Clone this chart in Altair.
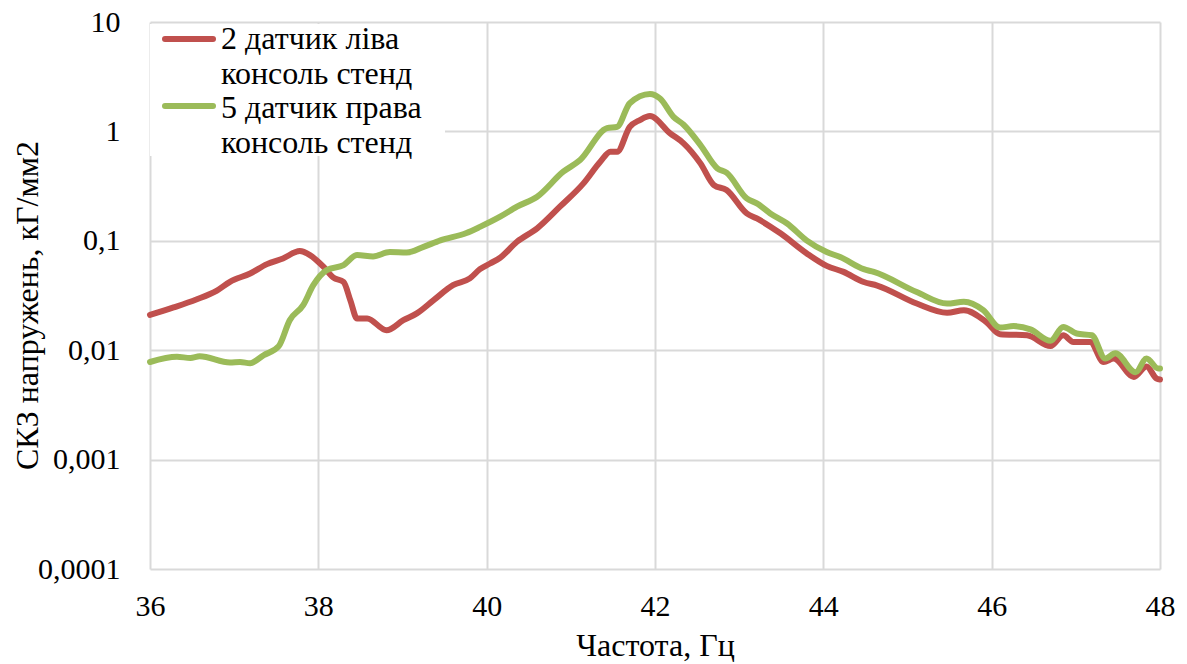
import altair as alt
import pandas as pd

# Frequency (Hz) and RMS stress (kG/mm2) for the two sensors
sensor2_freq = [36.0, 36.28, 36.55, 36.79, 36.95, 37.19, 37.39, 37.58, 37.78, 37.9,
                38.06, 38.18, 38.30, 38.38, 38.46, 38.58, 38.81, 39.01, 39.17, 39.37,
                39.60, 39.80, 39.92, 40.04, 40.16, 40.36, 40.60, 40.87, 41.15, 41.35,
                41.47, 41.55, 41.70, 41.82, 41.94, 42.18, 42.34, 42.54, 42.70, 42.85,
                43.09, 43.21, 43.49, 43.80, 44.04, 44.24, 44.48, 44.64, 45.11, 45.47,
                45.67, 45.94, 46.10, 46.42, 46.70, 46.85, 46.97, 47.17, 47.33, 47.45,
                47.69, 47.84, 47.96, 48.0]
sensor2_rms = [0.021, 0.0246, 0.0291, 0.0349, 0.0422, 0.0503, 0.0612, 0.069, 0.0805, 0.074,
               0.058, 0.046, 0.042, 0.0286, 0.0195, 0.0195, 0.0152, 0.0188, 0.0217, 0.0287,
               0.0393, 0.0453, 0.055, 0.062, 0.070, 0.098, 0.130, 0.205, 0.335, 0.528,
               0.652, 0.652, 1.10, 1.27, 1.38, 0.96, 0.778, 0.51, 0.323, 0.291,
               0.178, 0.160, 0.117, 0.077, 0.059, 0.052, 0.042, 0.039, 0.0267, 0.022,
               0.0232, 0.018, 0.014, 0.0137, 0.0109, 0.0137, 0.0119, 0.0119, 0.0078, 0.0084,
               0.0057, 0.0071, 0.0055, 0.0054]

sensor5_freq = [36.0, 36.32, 36.48, 36.59, 36.95, 37.07, 37.19, 37.35, 37.53, 37.66,
                37.82, 37.94, 38.10, 38.30, 38.46, 38.65, 38.85, 39.05, 39.25, 39.45,
                39.76, 39.92, 40.16, 40.36, 40.60, 40.91, 41.11, 41.43, 41.55, 41.70,
                41.94, 42.06, 42.22, 42.34, 42.54, 42.74, 42.85, 43.09, 43.21, 43.37,
                43.57, 43.80, 44.04, 44.20, 44.48, 44.60, 45.11, 45.47, 45.67, 45.90,
                46.10, 46.26, 46.46, 46.70, 46.85, 47.01, 47.19, 47.35, 47.47, 47.71,
                47.84, 47.98, 48.0]
sensor5_rms = [0.0078, 0.0087, 0.0085, 0.0088, 0.0077, 0.0078, 0.0076, 0.0090, 0.0109, 0.0188,
               0.0258, 0.0393, 0.054, 0.060, 0.074, 0.072, 0.0789, 0.078, 0.088, 0.101,
               0.118, 0.134, 0.166, 0.205, 0.253, 0.428, 0.547, 1.07, 1.10, 1.81,
               2.2, 2.0, 1.36, 1.15, 0.75, 0.46, 0.42, 0.244, 0.22, 0.178,
               0.144, 0.101, 0.079, 0.071, 0.055, 0.052, 0.034, 0.0267, 0.0277, 0.0232,
               0.0161, 0.0166, 0.0155, 0.0122, 0.0163, 0.0142, 0.0137, 0.0084, 0.0094, 0.0063,
               0.0084, 0.0068, 0.0068]

series_names = ["2 датчик ліва консоль стенд", "5 датчик права консоль стенд"]
series_colors = ["#C0504D", "#9BBB59"]
y_ticks = [0.0001, 0.001, 0.01, 0.1, 1, 10]
x_ticks = [36, 38, 40, 42, 44, 46, 48]

df = pd.concat([
    pd.DataFrame({"freq": sensor2_freq, "rms": sensor2_rms, "series": series_names[0], "order": range(len(sensor2_freq))}),
    pd.DataFrame({"freq": sensor5_freq, "rms": sensor5_rms, "series": series_names[1], "order": range(len(sensor5_freq))}),
])

FONT = "Liberation Serif"
LABEL_FS = 30
TITLE_FS = 32
LEGEND_FS = 32
LINE_W = 6

lines = alt.Chart(df).mark_line(strokeWidth=LINE_W, interpolate="monotone", strokeCap="round", strokeJoin="round").encode(
    x=alt.X("freq:Q", scale=alt.Scale(domain=[36, 48], nice=False, zero=False),
            axis=alt.Axis(values=x_ticks, format="d", title="Частота, Гц", labelFlush=False,
                          labelPadding=22, titlePadding=9)),
    y=alt.Y("rms:Q", scale=alt.Scale(type="log", domain=[0.0001, 10], nice=False),
            axis=alt.Axis(values=y_ticks, labelExpr="replace(toString(datum.value), '.', ',')",
                          labelFlush=False, title="СКЗ напружень, кГ/мм2",
                          labelPadding=30, titleAngle=270, titleAlign="center",
                          titleBaseline="alphabetic", titleX=-113, titleY=283)),
    color=alt.Color("series:N", scale=alt.Scale(domain=series_names, range=series_colors), legend=None),
    order="order:Q",
)

one = alt.Data(values=[{}])

# Legend panel drawn on a white box at the top left of the plot
legend_bg = alt.Chart(one).mark_rect(fill="white").encode(
    x=alt.value(0), x2=alt.value(295), y=alt.value(2), y2=alt.value(134))

def swatch(color, ypix):
    return alt.Chart(one).mark_rule(strokeWidth=LINE_W, strokeCap="round", color=color).encode(
        x=alt.value(15), x2=alt.value(63), y=alt.value(ypix))

def label(text, ypix):
    return alt.Chart(one).mark_text(align="left", baseline="alphabetic", font=FONT, fontSize=LEGEND_FS,
                                    color="black").encode(
        x=alt.value(71), y=alt.value(ypix), text=alt.value(text))

legend = [
    legend_bg,
    swatch(series_colors[0], 17),
    swatch(series_colors[1], 84),
    label("2 датчик ліва", 27),
    label("консоль стенд", 62),
    label("5 датчик права", 96),
    label("консоль стенд", 131),
]

chart = alt.layer(lines, *legend).properties(
    width=1010, height=547,
    autosize=alt.AutoSizeParams(type="none"),
    padding={"left": 150, "top": 22, "right": 27, "bottom": 95},
).configure_view(stroke=None).configure_axis(
    grid=True, gridColor="#D9D9D9", gridWidth=2, domain=False, ticks=False,
    labelFont=FONT, labelFontSize=LABEL_FS, labelColor="black",
    titleFont=FONT, titleFontSize=TITLE_FS, titleColor="black", titleFontWeight="normal",
)

chart.save("out.html", embed_options={"renderer": "svg", "actions": False})
